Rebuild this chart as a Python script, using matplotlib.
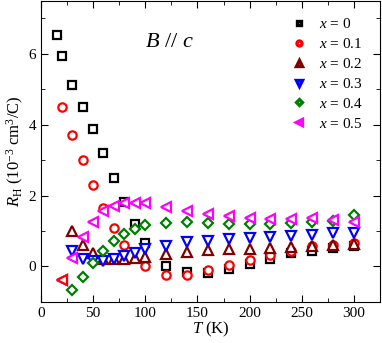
import numpy as np
import matplotlib.pyplot as plt

plt.rcParams['font.family'] = 'Liberation Serif'
plt.rcParams['mathtext.fontset'] = 'custom'
plt.rcParams['mathtext.rm'] = 'Liberation Serif'
plt.rcParams['mathtext.it'] = 'Liberation Serif:italic'

# Donnees
T_0 = [15, 20, 30, 40, 50, 60, 70, 80, 90, 100, 120, 140, 160, 180, 200, 220, 240, 260, 280, 300]
R_0 = [6.54, 5.95, 5.13, 4.5, 3.88, 3.2, 2.5, 1.82, 1.19, 0.67, 0.02, -0.17, -0.18, -0.06, 0.08, 0.22, 0.37, 0.44, 0.51, 0.57]

T_1 = [20, 30, 40, 50, 60, 70, 80, 100, 120, 140, 160, 180, 200, 220, 240, 260, 280, 300]
R_1 = [4.5, 3.7, 3.0, 2.3, 1.66, 1.08, 0.6, 0.0, -0.24, -0.24, -0.11, 0.04, 0.19, 0.31, 0.44, 0.57, 0.6, 0.65]

T_2 = [30, 40, 50, 60, 70, 80, 90, 100, 120, 140, 160, 180, 200, 220, 240, 260, 280, 300]
R_2 = [0.99, 0.6, 0.37, 0.22, 0.2, 0.2, 0.23, 0.27, 0.35, 0.42, 0.46, 0.48, 0.5, 0.52, 0.56, 0.59, 0.61, 0.63]

T_3 = [30, 40, 50, 60, 70, 80, 90, 100, 120, 140, 160, 180, 200, 220, 240, 260, 280, 300]
R_3 = [0.44, 0.2, 0.16, 0.14, 0.2, 0.29, 0.38, 0.48, 0.58, 0.69, 0.73, 0.76, 0.8, 0.83, 0.87, 0.88, 0.93, 0.95]

T_4 = [30, 40, 50, 60, 70, 80, 90, 100, 120, 140, 160, 180, 200, 220, 240, 260, 280, 300]
R_4 = [-0.67, -0.3, 0.1, 0.43, 0.72, 0.92, 1.05, 1.17, 1.23, 1.25, 1.23, 1.2, 1.19, 1.2, 1.22, 1.25, 1.27, 1.44]

T_5 = [20, 30, 40, 50, 60, 70, 80, 90, 100, 120, 140, 160, 180, 200, 220, 240, 260, 280, 300]
R_5 = [-0.38, 0.25, 0.82, 1.25, 1.55, 1.7, 1.78, 1.8, 1.78, 1.69, 1.57, 1.48, 1.42, 1.38, 1.35, 1.33, 1.37, 1.3, 1.25]

labels = ['$x$ = 0', '$x$ = 0.1', '$x$ = 0.2', '$x$ = 0.3', '$x$ = 0.4', '$x$ = 0.5']
couleurs = ['black', 'red', '#800000', 'blue', 'green', 'magenta']
marqueurs = ['s', 'o', '^', 'v', 'D', '<']
tailles = [5.2, 6, 7, 7, 5, 7]

fig = plt.figure(figsize=(3.82, 3.43), dpi=100)
ax = fig.add_axes([0.107, 0.12, 0.888, 0.878])

series = [(T_0, R_0), (T_1, R_1), (T_2, R_2), (T_3, R_3), (T_4, R_4), (T_5, R_5)]
for n in range(len(series)):
    T, R = series[n]
    ax.plot(T, R, linestyle='none', marker=marqueurs[n], markersize=tailles[n],
            markerfacecolor='white', markeredgecolor=couleurs[n],
            markeredgewidth=1.6, label=labels[n])

# le point a 20 K de x = 0.5 est rouge sur l'original
ax.plot(T_5[0], R_5[0], linestyle='none', marker='<', markersize=7,
        markerfacecolor='white', markeredgecolor='red', markeredgewidth=1.6)

ax.set_xlim(0, 325)
ax.set_ylim(-1, 7.5)
ax.set_xticks([0, 50, 100, 150, 200, 250, 300])
ax.set_xticks(np.arange(25, 325, 50), minor=True)
ax.set_yticks([0, 2, 4, 6])
ax.set_yticks([-1, 1, 3, 5, 7], minor=True)
ax.tick_params(which='both', direction='in', top=True, right=True, labelsize=11)
ax.tick_params(which='major', length=5)
ax.tick_params(which='minor', length=3)

ax.set_xlabel('$T$ (K)', fontsize=12, labelpad=0)
ax.set_ylabel(r'$R_{\rm H}$ (10$^{-3}$ cm$^3$/C)', fontsize=12, labelpad=2)
ax.text(100, 6.2, r'$B$ // $c$', fontsize=16)

leg = ax.legend(loc='upper right', frameon=False, fontsize=11, handletextpad=0.6,
                labelspacing=0.38, borderaxespad=0.7, handlelength=1.5,
                markerscale=0.6)
for h in leg.legend_handles:
    h.set_markeredgewidth(2.4)

plt.savefig('out.png', dpi=100)
